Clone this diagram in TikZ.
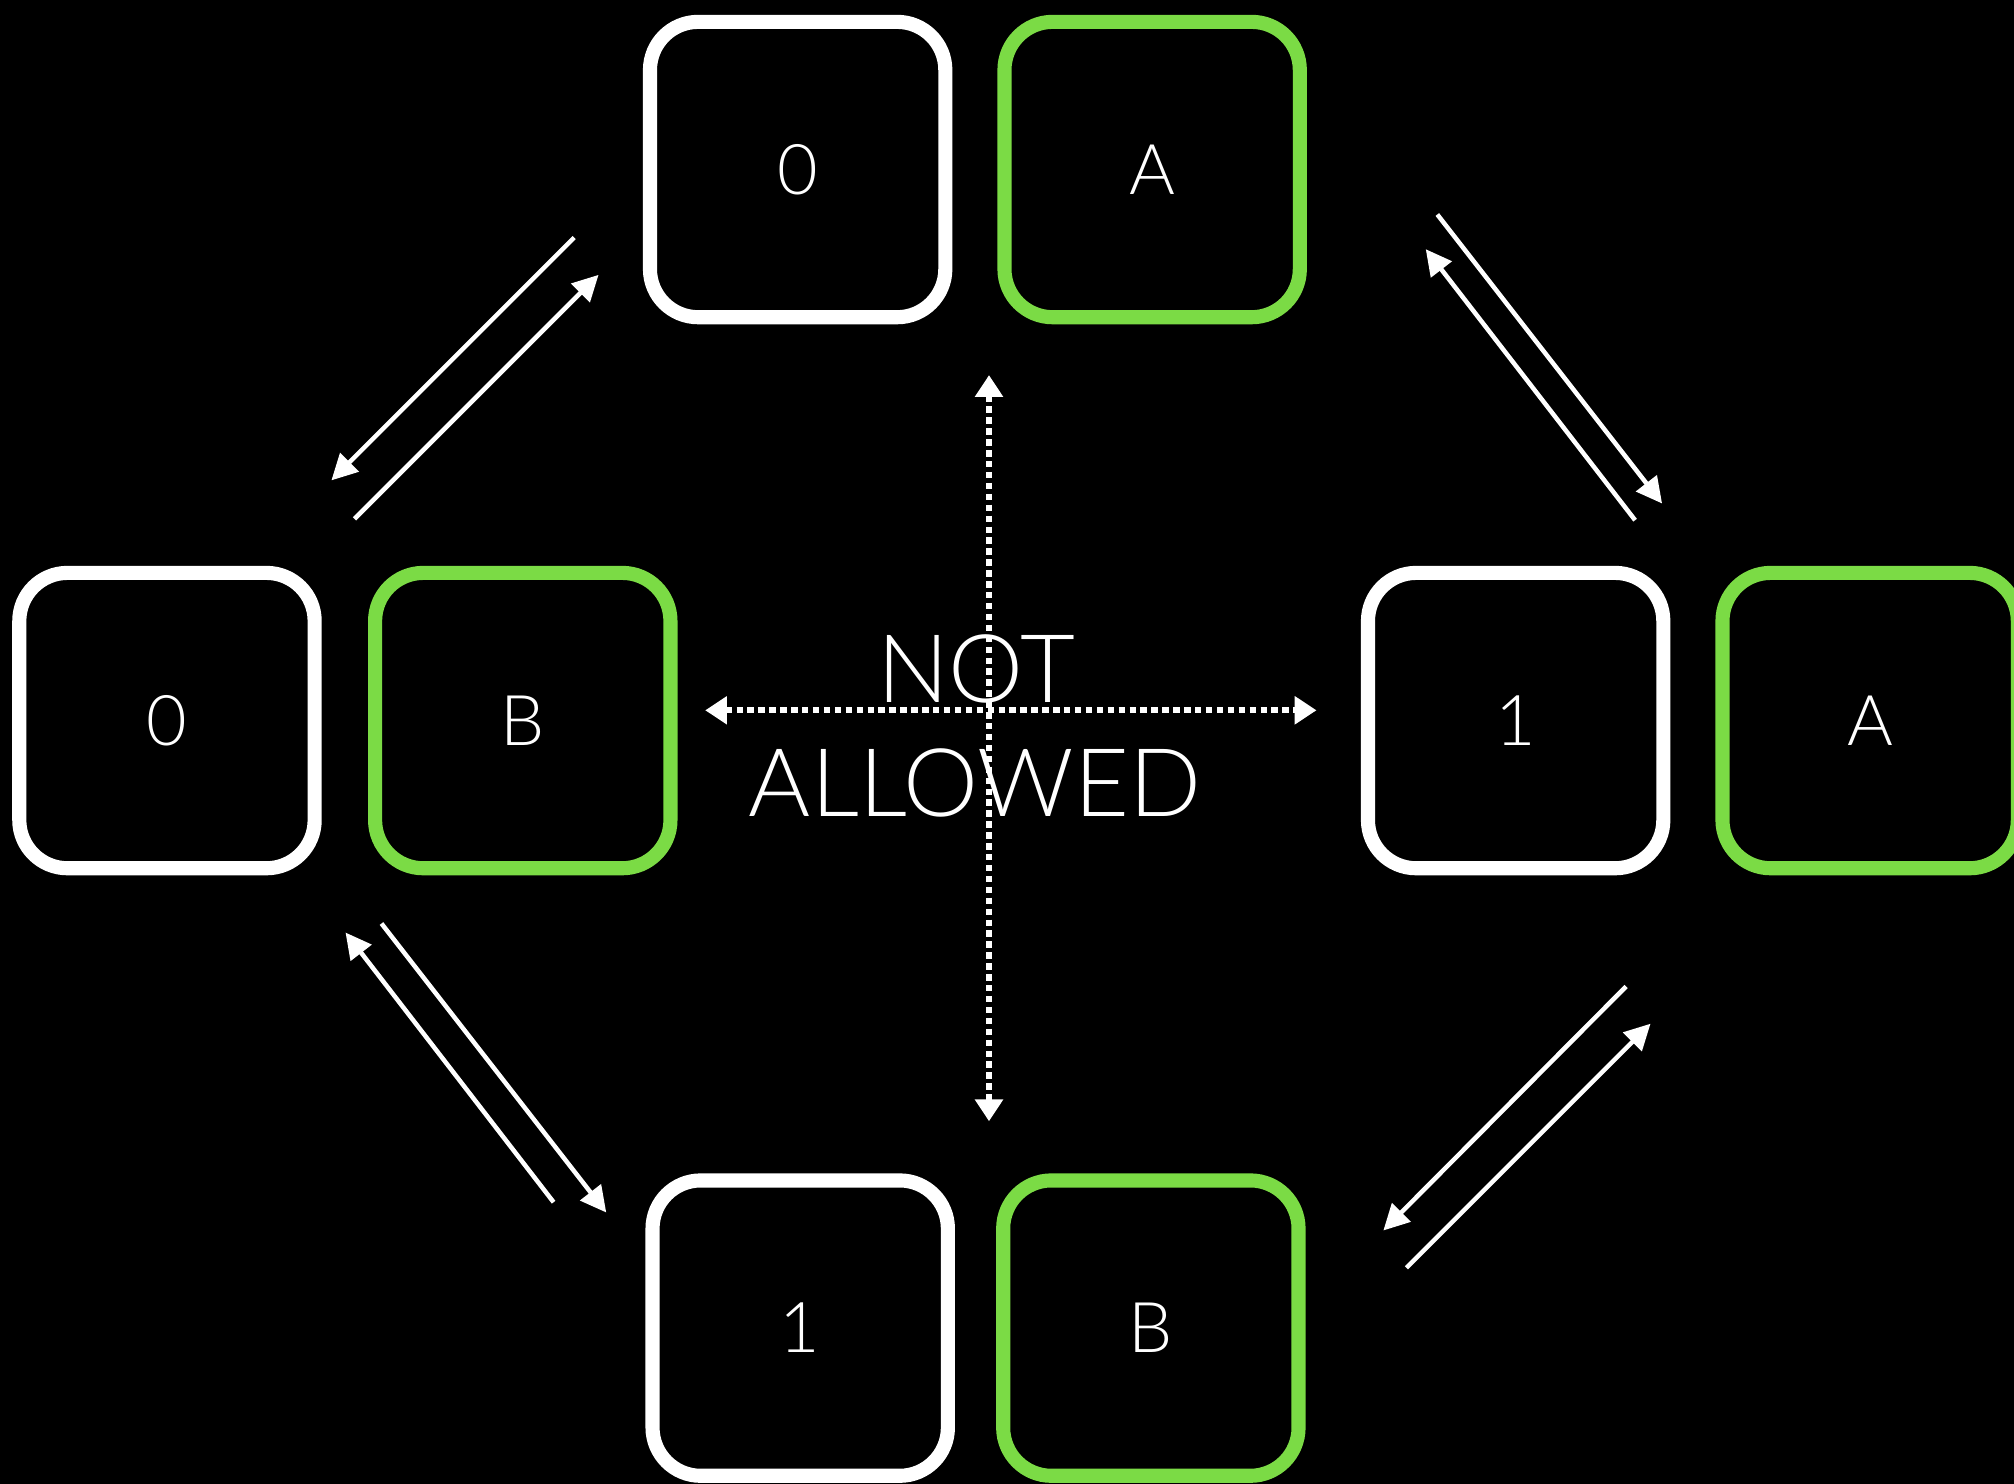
\documentclass[tikz,border=0pt]{standalone}
\usepackage{fontspec}
\setmainfont{Lato}[UprightFont=* Light]
\usetikzlibrary{arrows.meta}
\definecolor{cardgreen}{RGB}{123,219,69}

\begin{document}
\begin{tikzpicture}[x=0.02cm, y=-0.02cm,  % 使用像素坐标, y 向下
    card/.style={draw=white, line width=0.22cm, rounded corners=0.75cm, fill=black,
        minimum width=4.6cm, minimum height=4.6cm, inner sep=0pt,
        text=white, font=\fontsize{31}{37}\selectfont},
    gcard/.style={card, draw=cardgreen},
    swap/.style={draw=white, line width=2pt, -{Triangle[length=0.4cm, width=0.4cm]}},
    banned/.style={draw=white, line width=0.09cm, dash pattern=on 0.1cm off 0.07cm,
        {Triangle[length=0.34cm, width=0.42cm]}-{Triangle[length=0.34cm, width=0.42cm]}},
    bigtext/.style={text=white, font=\fontsize{42}{50}\selectfont, inner sep=0pt}]

    % 背景
    \useasboundingbox (0,0) rectangle (1568,1155);
    \fill[black] (0,0) rectangle (1568,1155);

    % 绘制四组卡片
    \node[card] (t0) at (621,132) {0};   % 上
    \node[gcard] (tA) at (897,132) {A};
    \node[card] (l0) at (130,561) {0};   % 左
    \node[gcard] (lB) at (407,561) {B};
    \node[card] (r1) at (1180,561) {1};  % 右
    \node[gcard] (rA) at (1456,561) {A};
    \node[card] (b1) at (623,1034) {1};  % 下
    \node[gcard] (bB) at (896,1034) {B};

    % 箭头端点
    \coordinate (tl1) at (447,185);  \coordinate (tl2) at (258,374);
    \coordinate (tl3) at (276,404);  \coordinate (tl4) at (466,214);
    \coordinate (tr1) at (1119,167); \coordinate (tr2) at (1294,392);
    \coordinate (tr3) at (1273,405); \coordinate (tr4) at (1110,194);
    \coordinate (bl1) at (297,719);  \coordinate (bl2) at (472,944);
    \coordinate (bl3) at (431,936);  \coordinate (bl4) at (269,726);
    \coordinate (br1) at (1266,768); \coordinate (br2) at (1077,958);
    \coordinate (br3) at (1095,987); \coordinate (br4) at (1285,797);

    % 允许的切换 (双向箭头)
    \draw[swap] (tl1) -- (tl2);
    \draw[swap] (tl3) -- (tl4);
    \draw[swap] (tr1) -- (tr2);
    \draw[swap] (tr3) -- (tr4);
    \draw[swap] (bl1) -- (bl2);
    \draw[swap] (bl3) -- (bl4);
    \draw[swap] (br1) -- (br2);
    \draw[swap] (br3) -- (br4);

    % 中间文字
    \node[bigtext, anchor=base] (not) at (760,547) {NOT};
    \node[bigtext, anchor=base] (allowed) at (759,636) {ALLOWED};

    % 不允许的切换 (虚线)
    \coordinate (up) at (770,292);
    \coordinate (down) at (770,873);
    \coordinate (left) at (549,553);
    \coordinate (right) at (1025,553);
    \draw[banned] (up) -- (down);
    \draw[banned] (left) -- (right);

\end{tikzpicture}
\end{document}
